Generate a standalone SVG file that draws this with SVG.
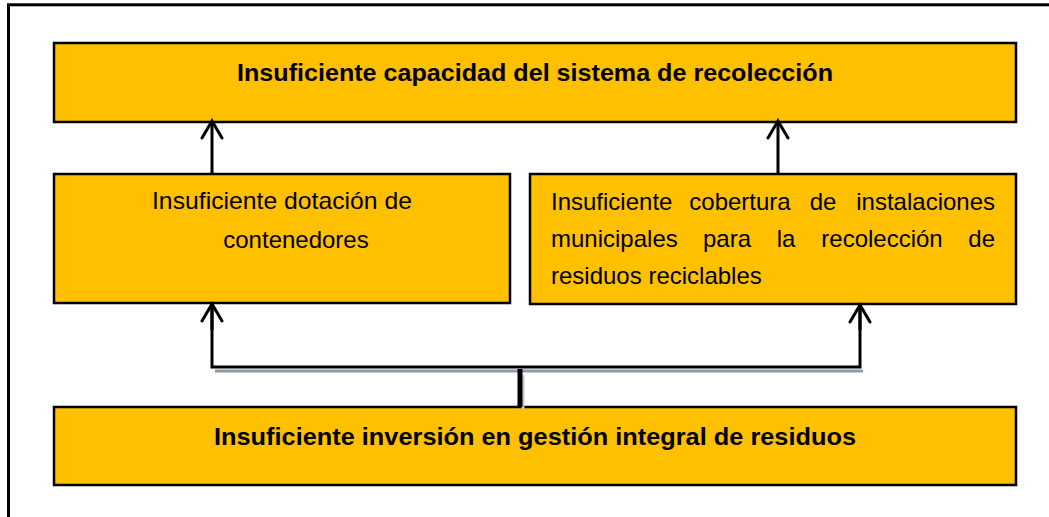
<svg xmlns="http://www.w3.org/2000/svg" width="1049" height="517" viewBox="0 0 1049 517">
<defs>
<style>
.box{fill:#FFC000;stroke:#000;stroke-width:2.5}
.t{font-family:"Liberation Sans",Arial,sans-serif;font-size:24px;fill:#000}
.tb{font-family:"Liberation Sans",Arial,sans-serif;font-size:24px;font-weight:bold;fill:#000}
.ln{fill:none;stroke:#000;stroke-width:3}
</style>
<marker id="arr" viewBox="-20 -12 24 24" markerWidth="24" markerHeight="24" refX="0" refY="0" orient="auto" markerUnits="userSpaceOnUse">
<path d="M-17,-10 L0,0 L-17,10" fill="none" stroke="#000" stroke-width="3" stroke-linecap="round" stroke-linejoin="miter"/>
</marker>
</defs>
<rect x="0" y="0" width="1049" height="517" fill="#fff"/>
<rect x="8.5" y="4.8" width="1100" height="600" fill="none" stroke="#000" stroke-width="3"/>

<g id="top">
<rect class="box" x="54" y="43" width="962" height="79"/>
<text class="tb" x="535" y="81" text-anchor="middle" textLength="596" lengthAdjust="spacingAndGlyphs">Insuficiente capacidad del sistema de recolección</text>
</g>

<g id="left">
<rect class="box" x="54" y="174" width="456" height="129"/>
<text class="t" x="282" y="209" text-anchor="middle" textLength="260" lengthAdjust="spacingAndGlyphs">Insuficiente dotación de</text>
<text class="t" x="296" y="248" text-anchor="middle">contenedores</text>
</g>

<g id="right">
<rect class="box" x="530" y="174" width="486" height="130"/>
<text class="t" y="210" text-anchor="middle"><tspan x="551" text-anchor="start">Insuficiente</tspan><tspan x="740">cobertura</tspan><tspan x="823">de</tspan><tspan x="995" text-anchor="end">instalaciones</tspan></text>
<text class="t" y="247" text-anchor="middle"><tspan x="551" text-anchor="start">municipales</tspan><tspan x="727">para</tspan><tspan x="786">la</tspan><tspan x="882">recolección</tspan><tspan x="995" text-anchor="end">de</tspan></text>
<text class="t" x="551" y="284">residuos reciclables</text>
</g>

<g id="bottom">
<rect class="box" x="54" y="407" width="962" height="78"/>
<text class="tb" x="535" y="445" text-anchor="middle" textLength="642" lengthAdjust="spacingAndGlyphs">Insuficiente inversión en gestión integral de residuos</text>
</g>

<g id="connectors">
<line class="ln" x1="212" y1="174" x2="212" y2="121" marker-end="url(#arr)"/>
<line class="ln" x1="778" y1="174" x2="778" y2="121" marker-end="url(#arr)"/>
<line x1="215" y1="371" x2="863" y2="371" stroke="#8e99ab" stroke-width="3"/>
<line x1="523" y1="375" x2="523" y2="409" stroke="#c8c8c8" stroke-width="3"/>
<polyline class="ln" points="212,304 212,367 860,367 860,305"/>
<line class="ln" x1="212" y1="330" x2="212" y2="304" marker-end="url(#arr)"/>
<line class="ln" x1="860" y1="330" x2="860" y2="305" marker-end="url(#arr)"/>
<line x1="520" y1="369" x2="520" y2="407" stroke="#000" stroke-width="5"/>
</g>
</svg>
